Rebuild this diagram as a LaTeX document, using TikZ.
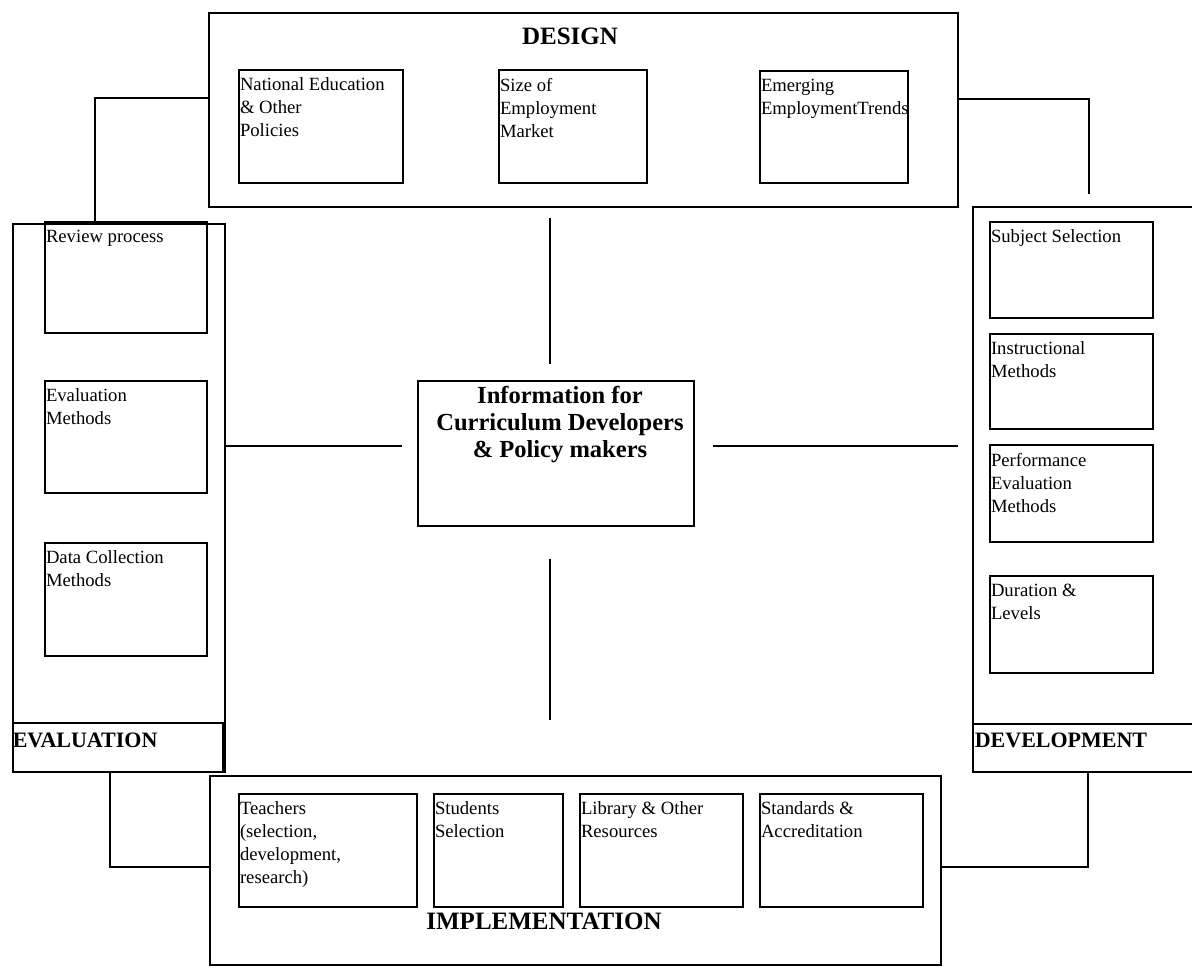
\documentclass[tikz,border=0pt]{standalone}
\usepackage{fontspec}
\setmainfont{Liberation Serif}
\usetikzlibrary{fit}
\newcommand{\itemfont}{\fontsize{14}{17.25}\selectfont}
\newcommand{\headfont}{\fontsize{18.75}{22}\selectfont\bfseries}
\newcommand{\sidefont}{\fontsize{16.5}{20}\selectfont\bfseries}
\newcommand{\infofont}{\fontsize{18.4}{20.25}\selectfont\bfseries}
\tikzset{
  box/.style={draw, line width=1.2pt, inner sep=0pt},
  item/.style={anchor=north west, inner sep=0pt, align=left, font=\itemfont, xshift=0.75pt, yshift=-6pt},
}
\begin{document}
\begin{tikzpicture}[x=0.75pt, y=-0.75pt, line width=1.2pt]
      \useasboundingbox (0,0) rectangle (1192,967);
      % the four stages
      \node[box, fit={(209,13) (958,207)}] (design) {};
      \node[box, fit={(13,224) (225,772)}] (evout) {};
      \node[box, fit={(13,723) (223,772)}] (evlab) {};
      \node[box, fit={(973,207) (1198,772)}] (devout) {};
      \node[box, fit={(973,724) (1198,772)}] (devlab) {};
      \node[box, fit={(210,776) (941,965)}] (impl) {};
      \node[box, fit={(418,381) (694,526)}] (info) {};
      \node[font=\headfont, anchor=base] (designtitle) at (570,44) {DESIGN};
      \node[font=\headfont, anchor=base] (impltitle) at (544,929) {IMPLEMENTATION};
      \node[font=\sidefont, anchor=base west, inner sep=0pt] (evaltitle) at (12,747) {EVALUATION};
      \node[font=\sidefont, anchor=base west, inner sep=0pt] (devtitle) at (974,747) {DEVELOPMENT};
      \node[font=\infofont, align=center, anchor=north, inner sep=0pt, xshift=3pt, yshift=-4pt]
        (infotext) at (info.north) {Information for\\Curriculum Developers\\\& Policy makers};
      % design
      \node[box, fit={(239,70) (403,183)}] (nat) {};
      \node[box, fit={(499,70) (647,183)}] (size) {};
      \node[box, fit={(760,71) (908,183)}] (emerg) {};
      \node[item] (nattext) at (nat.north west) {National Education\\\& Other\\Policies};
      \node[item] (sizetext) at (size.north west) {Size of\\Employment\\Market};
      \node[item] (emergtext) at (emerg.north west) {Emerging\\EmploymentTrends};
      % evaluation
      \node[box, fit={(45,222) (207,333)}] (review) {};
      \node[box, fit={(45,381) (207,493)}] (evmeth) {};
      \node[box, fit={(45,543) (207,656)}] (datacol) {};
      \node[item] (reviewtext) at (review.north west) {Review process};
      \node[item] (evmethtext) at (evmeth.north west) {Evaluation\\Methods};
      \node[item] (datacoltext) at (datacol.north west) {Data Collection\\Methods};
      % development
      \node[box, fit={(990,222) (1153,318)}] (subj) {};
      \node[box, fit={(990,334) (1153,429)}] (instr) {};
      \node[box, fit={(990,445) (1153,542)}] (perf) {};
      \node[box, fit={(990,576) (1153,673)}] (durat) {};
      \node[item] (subjtext) at (subj.north west) {Subject Selection};
      \node[item] (instrtext) at (instr.north west) {Instructional\\Methods};
      \node[item] (perftext) at (perf.north west) {Performance\\Evaluation\\Methods};
      \node[item] (durattext) at (durat.north west) {Duration \&\\Levels};
      % implementation
      \node[box, fit={(239,794) (417,907)}] (teach) {};
      \node[box, fit={(434,794) (563,907)}] (stud) {};
      \node[box, fit={(580,794) (743,907)}] (lib) {};
      \node[box, fit={(760,794) (923,907)}] (stand) {};
      \node[item] (teachtext) at (teach.north west) {Teachers\\(selection,\\development,\\research)};
      \node[item] (studtext) at (stud.north west) {Students\\Selection};
      \node[item] (libtext) at (lib.north west) {Library \& Other\\Resources};
      \node[item] (standtext) at (stand.north west) {Standards \&\\Accreditation};
      % connectors
      \coordinate (dl) at (95,98);
      \coordinate (dr) at (1089,99);
      \coordinate (drend) at (1089,194);
      \coordinate (bl) at (110,867);
      \coordinate (br) at (1088,867);
      \coordinate (vt1) at (550,218);
      \coordinate (vt2) at (550,364);
      \coordinate (vb1) at (550,559);
      \coordinate (vb2) at (550,720);
      \coordinate (hl) at (402,446);
      \coordinate (hr1) at (713,446);
      \coordinate (hr2) at (958,446);
      \begin{scope}[-]
        \draw (dl -| design.west) -| (review.north -| dl);
        \draw (dr -| design.east) -- (dr) -- (drend);
        \draw (bl |- evlab.south) |- (impl.west |- bl);
        \draw (impl.east |- br) -| (br |- devlab.south);
        \draw (vt1) to (vt2);
        \draw (vb1) to (vb2);
        \draw (evout.east |- hl) to (hl);
        \draw (hr1) to (hr2);
      \end{scope}
\end{tikzpicture}
\end{document}
